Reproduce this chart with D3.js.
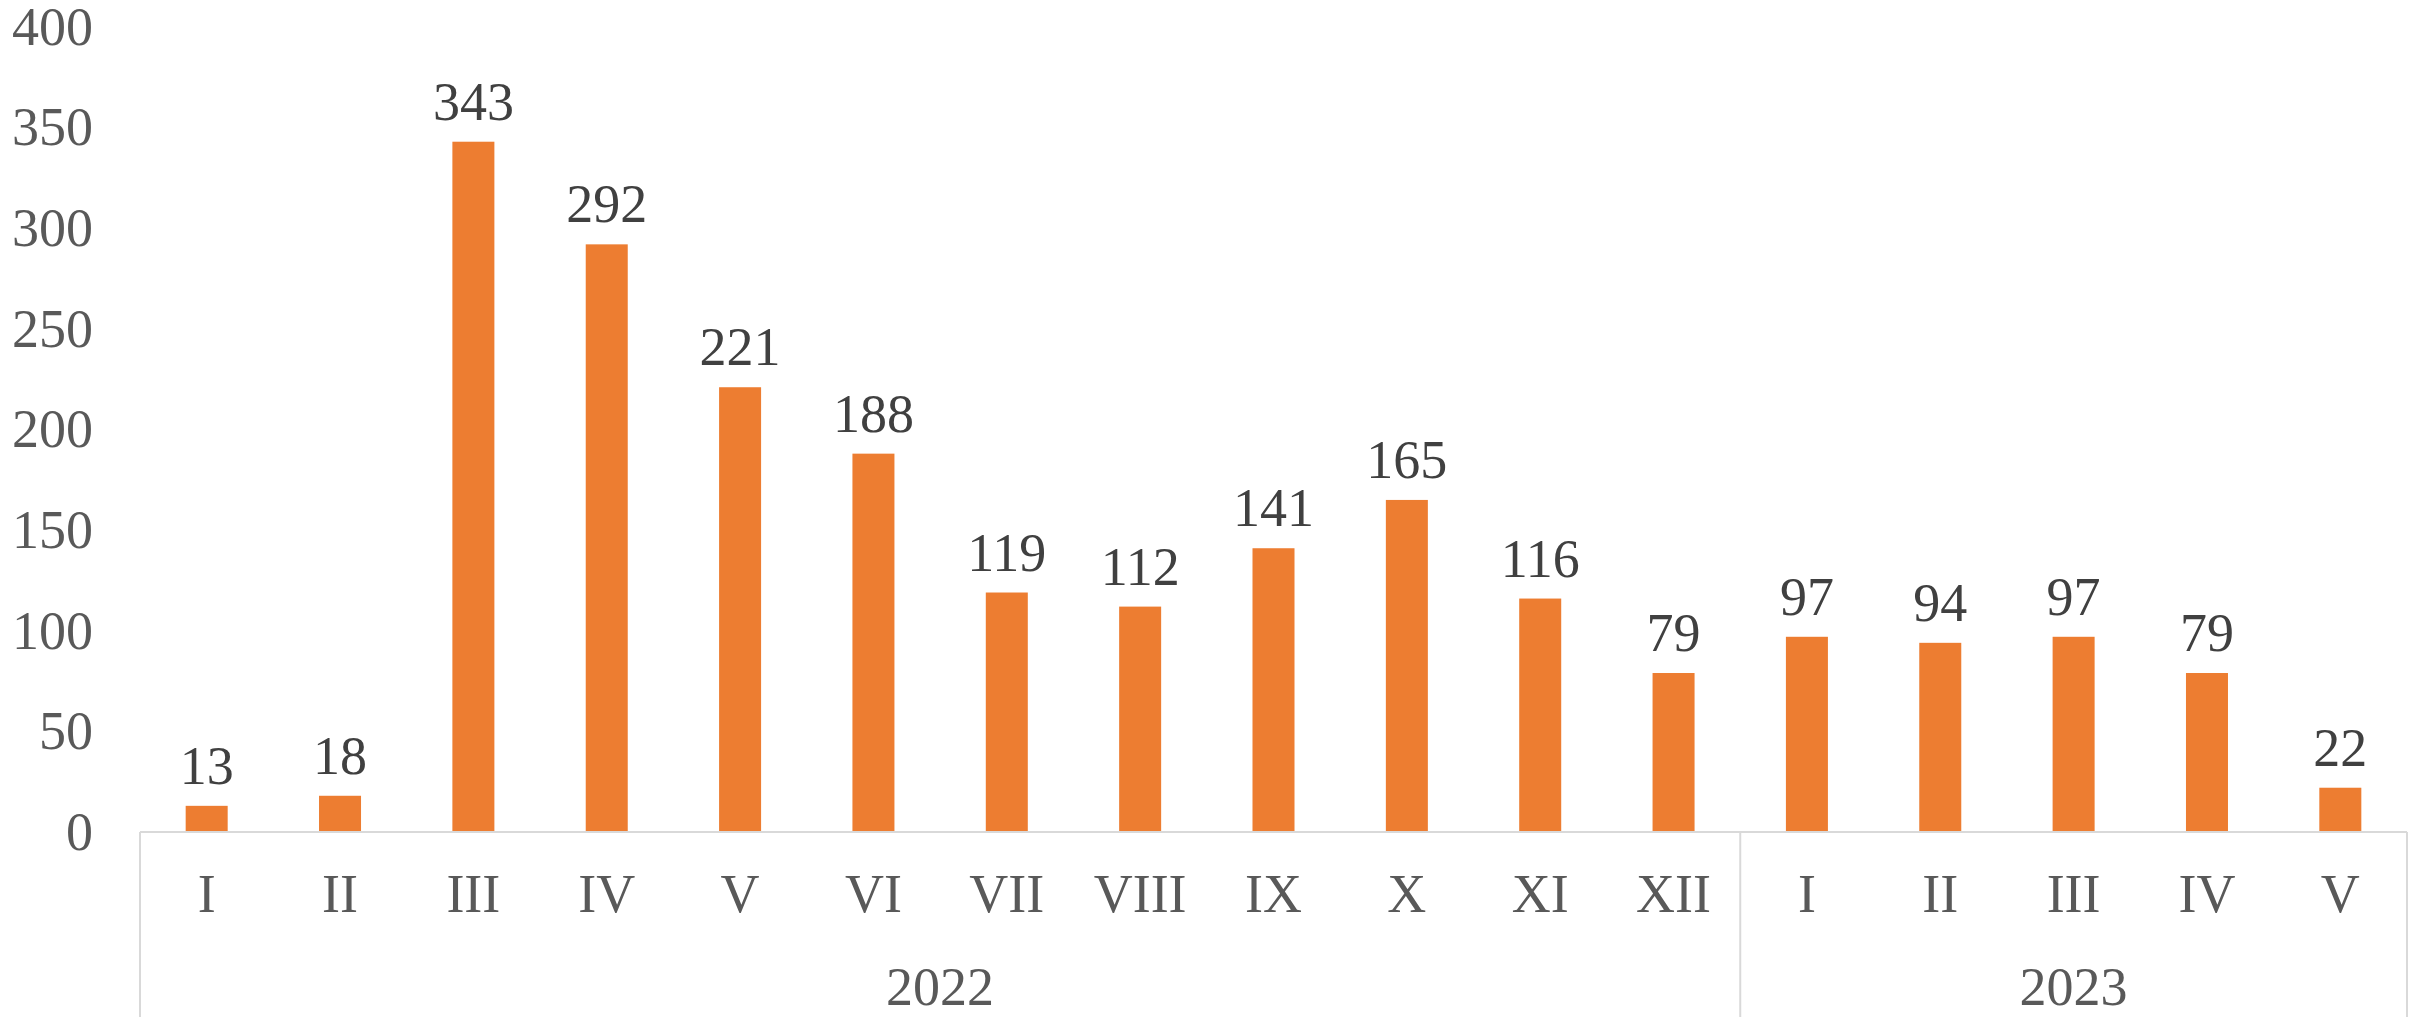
<!DOCTYPE html>
<html>
<head>
<meta charset="utf-8">
<script src="https://cdn.jsdelivr.net/npm/d3@7"></script>
<style>
    body { margin: 0; background: #fff; }
    svg text { font-family: "Liberation Serif", "Times New Roman", serif; }
</style>
</head>
<body>
<div id="chart"></div>
<script>
    // data
    var months = ["I", "II", "III", "IV", "V", "VI", "VII", "VIII", "IX", "X", "XI", "XII",
                  "I", "II", "III", "IV", "V"];
    var years = ["2022", "2022", "2022", "2022", "2022", "2022", "2022", "2022", "2022", "2022", "2022", "2022",
                 "2023", "2023", "2023", "2023", "2023"];
    var values = [13, 18, 343, 292, 221, 188, 119, 112, 141, 165, 116, 79, 97, 94, 97, 79, 22];
    var yTicks = [0, 50, 100, 150, 200, 250, 300, 350, 400];

    var chart_width = 2422;
    var chart_height = 1017;

    // plot area (note: "top" is reserved on window, so plotTop)
    var plotLeft = 140, plotRight = 2407, plotTop = 27, plotBase = 832;

    let svg = d3.select('#chart')
        .append('svg')
        .attr('width', chart_width)
        .attr('height', chart_height)

    const x = d3.scaleBand()
        .domain(d3.range(values.length))
        .range([plotLeft, plotRight])
        .paddingInner(0.685)
        .paddingOuter(0.3425)

    const y = d3.scaleLinear()
        .domain([0, 400])
        .range([plotBase, plotTop])

    // y axis labels only
    svg.append('g')
        .attr('transform', 'translate(' + (plotLeft - 47) + ',0)')
        .call(d3.axisLeft(y).tickValues(yTicks).tickSize(0).tickPadding(0))
        .call(g => g.select('.domain').remove())
        .selectAll('text')
        .attr('font-size', 54)
        .attr('fill', '#595959')
        .attr('font-family', '"Liberation Serif", serif')

    // bars
    svg.selectAll('rect.bar')
        .data(values)
        .enter()
        .append('rect')
        .attr('class', 'bar')
        .attr('fill', '#ED7D31')
        .attr('x', (d, i) => x(i))
        .attr('width', x.bandwidth())
        .attr('y', d => y(d))
        .attr('height', d => y(0) - y(d))

    // value labels
    svg.selectAll('text.val')
        .data(values)
        .enter()
        .append('text')
        .attr('class', 'val')
        .attr('x', (d, i) => x(i) + x.bandwidth() / 2)
        .attr('y', d => y(d) - 22)
        .attr('text-anchor', 'middle')
        .attr('font-size', 54)
        .attr('fill', '#404040')
        .text(d => d)

    // category axis: baseline and group box lines
    var axisColor = '#d9d9d9';
    svg.append('line')
        .attr('x1', plotLeft).attr('x2', plotRight)
        .attr('y1', plotBase).attr('y2', plotBase)
        .attr('stroke', axisColor).attr('stroke-width', 2)

    var groups = [];
    years.forEach(function (yr, i) {
        var last = groups[groups.length - 1];
        if (last && last.year === yr) last.end = i;
        else groups.push({ year: yr, start: i, end: i });
    });

    var step = x.step();
    var edges = [plotLeft].concat(groups.map(g => plotLeft + (g.end + 1) * step));
    svg.selectAll('line.sep')
        .data(edges)
        .enter()
        .append('line')
        .attr('class', 'sep')
        .attr('x1', d => d).attr('x2', d => d)
        .attr('y1', plotBase).attr('y2', chart_height)
        .attr('stroke', axisColor).attr('stroke-width', 2)

    svg.selectAll('text.month')
        .data(months)
        .enter()
        .append('text')
        .attr('class', 'month')
        .attr('x', (d, i) => x(i) + x.bandwidth() / 2)
        .attr('y', 912)
        .attr('text-anchor', 'middle')
        .attr('font-size', 54)
        .attr('fill', '#595959')
        .text(d => d)

    svg.selectAll('text.year')
        .data(groups)
        .enter()
        .append('text')
        .attr('class', 'year')
        .attr('x', g => plotLeft + (g.start + (g.end + 1)) / 2 * step)
        .attr('y', 1005)
        .attr('text-anchor', 'middle')
        .attr('font-size', 54)
        .attr('fill', '#595959')
        .text(g => g.year)
</script>
</body>
</html>
